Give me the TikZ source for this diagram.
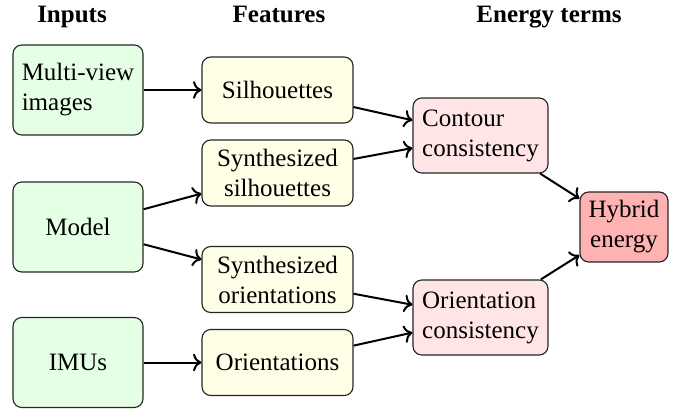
\documentclass[tikz,border=0pt]{standalone}
\usepackage{fontspec}
\setmainfont{Liberation Serif}
\usetikzlibrary{arrows.meta}
\begin{document}
\begin{tikzpicture}[x=0.4pt,y=-0.4pt,
  box/.style={draw=black!85, line width=0.45pt, rounded corners=3.5pt, inner sep=2pt},
  inbox/.style={box, fill=green!10, minimum width=52pt, minimum height=36pt},
  featbox/.style={box, fill=yellow!10, minimum width=60.4pt, minimum height=26.4pt, align=center},
  enbox/.style={box, fill=red!10, minimum width=54pt, minimum height=30pt, align=left},
  hybbox/.style={box, fill=red!30, minimum width=35.2pt, minimum height=28pt, align=center},
  head/.style={font=\bfseries, anchor=base},
  conn/.style={->, line width=0.8pt}
]
\useasboundingbox (0,0) rectangle (683,414);
% headers
\node[head] (hin) at (72,22) {Inputs};
\node[head] (hfeat) at (279,22) {Features};
\node[head] (hen) at (549,22) {Energy terms};
% inputs
\node[inbox, align=left] (mv) at (78,90) {Multi-view\\images};
\node[inbox] (model) at (78,227) {Model};
\node[inbox] (imu) at (78,362.5) {IMUs};
% features
\node[featbox] (sil) at (277.5,90) {Silhouettes};
\node[featbox] (ssil) at (277.5,173) {Synthesized\\silhouettes};
\node[featbox] (sori) at (277.5,279.5) {Synthesized\\orientations};
\node[featbox] (ori) at (277.5,362.5) {Orientations};
% energy
\node[enbox] (cc) at (480.5,135.5) {Contour\\consistency};
\node[enbox] (oc) at (480.5,317.5) {Orientation\\consistency};
\node[hybbox] (hyb) at (624,227) {Hybrid\\energy};
% connectors
\draw[conn] (mv) -- (sil);
\draw[conn] (model) -- (ssil);
\draw[conn] (model) -- (sori);
\draw[conn] (imu) -- (ori);
\draw[conn] (sil) -- (cc);
\draw[conn] (ssil) -- (cc);
\draw[conn] (sori) -- (oc);
\draw[conn] (ori) -- (oc);
\draw[conn] (cc) -- (hyb);
\draw[conn] (oc) -- (hyb);
\end{tikzpicture}
\end{document}
